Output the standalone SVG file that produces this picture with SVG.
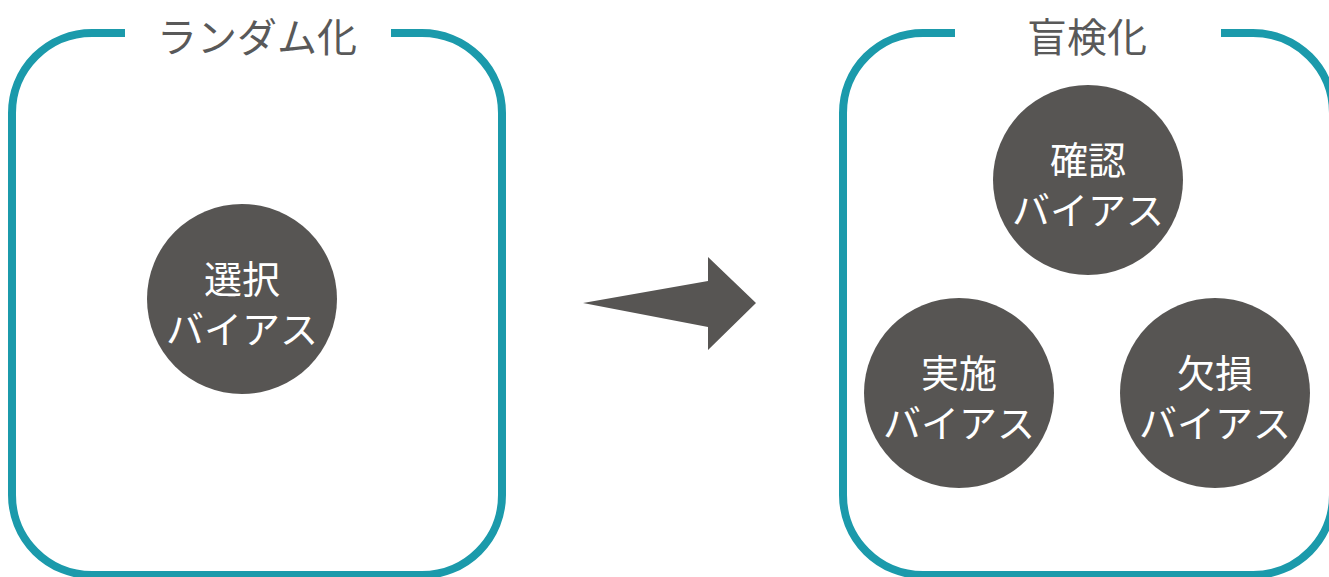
<svg xmlns="http://www.w3.org/2000/svg" width="1329" height="577" viewBox="0 0 1329 577">
<style>
.frame{fill:none;stroke:#1b9aab;stroke-width:8}
.title{font-family:"Noto Sans CJK JP","Noto Sans",sans-serif;font-size:40px;fill:#595959;text-anchor:middle}
.bubble{fill:#575553}
.lbl{font-family:"Noto Sans CJK JP","Noto Sans",sans-serif;font-size:38px;fill:#ffffff;text-anchor:middle}
</style>
<rect width="1329" height="577" fill="#ffffff"/>
<g id="randomization">
<path class="frame" d="M125,33 H92 A80,80 0 0 0 12,113 V495 A80,80 0 0 0 92,575 H422 A80,80 0 0 0 502,495 V113 A80,80 0 0 0 422,33 H391"/>
<text class="title" x="257" y="52">ランダム化</text>
</g>
<g id="selection-bias">
<circle class="bubble" cx="242" cy="299" r="95"/>
<text class="lbl" x="242" y="293">選択</text>
<text class="lbl" x="242" y="343">バイアス</text>
</g>
<g id="blinding">
<path class="frame" d="M955,33 H923 A80,80 0 0 0 843,113 V495 A80,80 0 0 0 923,575 H1253 A80,80 0 0 0 1333,495 V113 A80,80 0 0 0 1253,33 H1221"/>
<text class="title" x="1087" y="52">盲検化</text>
</g>
<g id="confirmation-bias">
<circle class="bubble" cx="1088" cy="180" r="95"/>
<text class="lbl" x="1088" y="174">確認</text>
<text class="lbl" x="1088" y="224">バイアス</text>
</g>
<g id="performance-bias">
<circle class="bubble" cx="959" cy="393" r="95"/>
<text class="lbl" x="959" y="387">実施</text>
<text class="lbl" x="959" y="437">バイアス</text>
</g>
<g id="attrition-bias">
<circle class="bubble" cx="1215" cy="393" r="95"/>
<text class="lbl" x="1215" y="387">欠損</text>
<text class="lbl" x="1215" y="437">バイアス</text>
</g>
<g id="connectors">
<polygon fill="#575553" points="583,303 708,281 708,257 756,303 708,350 708,327"/>
</g>
</svg>
